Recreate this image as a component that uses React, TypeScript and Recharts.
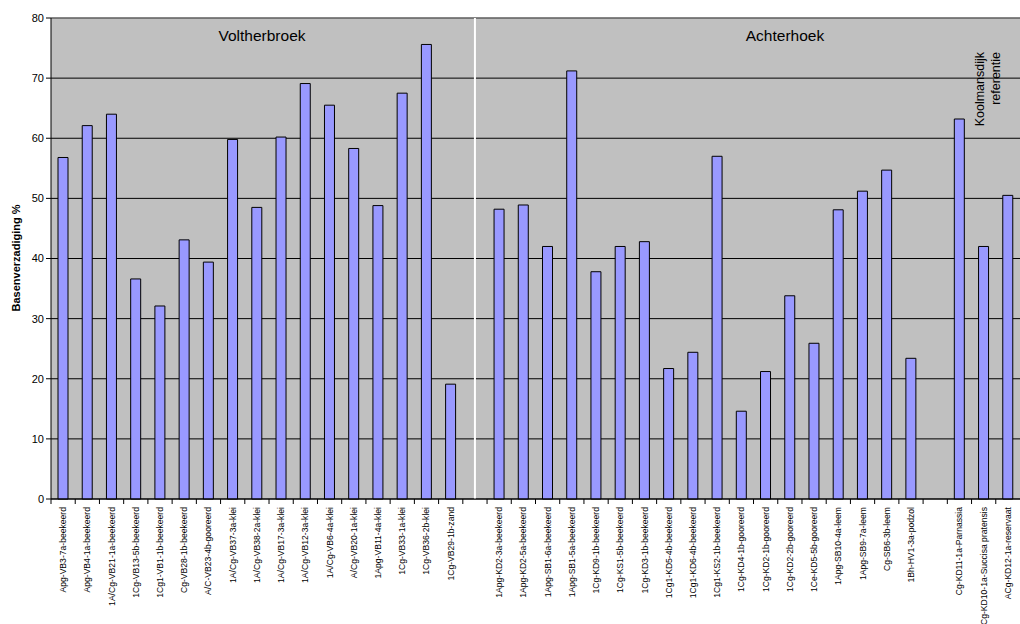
import React from 'react'
import { BarChart, Bar, XAxis, YAxis, CartesianGrid, ReferenceLine } from 'recharts'

// Voltherbroek
const volLabels = [
  'Apg-VB3-7a-beekeerd', 'Apg-VB4-1a-beekeerd', '1A/Cg-VB21-1a-beekeerd', '1Cg-VB13-5b-beekeerd',
  '1Cg1-VB1-1b-beekeerd', 'Cg-VB28-1b-beekeerd', 'A/C-VB23-4b-gooreerd', '1A/Cg-VB37-3a-klei',
  '1A/Cg-VB38-2a-klei', '1A/Cg-VB17-3a-klei', '1A/Cg-VB12-3a-klei', '1A/Cg-VB6-4a-klei',
  'A/Cg-VB20-1a-klei', '1Apg-VB11-4a-klei', '1Cg-VB33-1a-klei', '1Cg-VB36-2b-klei', '1Cg-VB29-1b-zand',
]
const volValues = [56.8, 62.1, 64.0, 36.6, 32.1, 43.1, 39.4, 59.8, 48.5, 60.2, 69.1, 65.5, 58.3, 48.8, 67.5, 75.6, 19.1]

// Achterhoek
const achLabels = [
  '1Apg-KD2-3a-beekeerd', '1Apg-KD2-5a-beekeerd', '1Apg-SB1-6a-beekeerd', '1Apg-SB1-5a-beekeerd',
  '1Cg-KD9-1b-beekeerd', '1Cg-KS1-5b-beekeerd', '1Cg-KD3-1b-beekeerd', '1Cg1-KD5-4b-beekeerd',
  '1Cg1-KD6-4b-beekeerd', '1Cg1-KS2-1b-beekeerd', '1Cg-KD4-1b-gooreerd', '1Cg-KD2-1b-gooreerd',
  '1Cg-KD2-2b-gooreerd', '1Ce-KD5-5b-gooreerd', '1Apg-SB10-4a-leem', '1Apg-SB9-7a-leem',
  'Cg-SB6-3b-leem', '1Bh-HV1-3a-podzol',
]
const achValues = [48.2, 48.9, 42.0, 71.2, 37.8, 42.0, 42.8, 21.7, 24.4, 57.0, 14.6, 21.2, 33.8, 25.9, 48.1, 51.2, 54.7, 23.4]

// Koolmansdijk referentie
const koolLabels = ['Cg-KD11-1a-Parnassia', 'Cg-KD10-1a-Succisa pratensis', 'ACg-KD12-1a-reservaat']
const koolValues = [63.2, 42.0, 50.5]

const yTicks = [0, 10, 20, 30, 40, 50, 60, 70, 80]

const data = [
  ...volLabels.map((l, i) => ({ key: l, value: volValues[i] })),
  { key: '_gap1', value: null },
  ...achLabels.map((l, i) => ({ key: l, value: achValues[i] })),
  { key: '_gap2', value: null },
  ...koolLabels.map((l, i) => ({ key: l, value: koolValues[i] })),
]

const W = 1020
const H = 624
const AXIS_W = 51
const catW = (W - AXIS_W) / data.length

const font = 'Arial, "Liberation Sans", sans-serif'

function XTick(props: any) {
  const { x, y, payload } = props
  const label = String(payload.value)
  return (
    <g>
      <line x1={x - catW / 2} y1={y} x2={x - catW / 2} y2={y + 5} stroke="#000" />
      {!label.startsWith('_') && (
        <text
          transform={`translate(${x + 3},${y + 8}) rotate(-90)`}
          textAnchor="end"
          fontSize={8.6}
          fontFamily={font}
          fill="#000"
        >
          {label}
        </text>
      )}
    </g>
  )
}

export default function App() {
  return (
    <div style={{ position: 'relative', width: W, height: H }}>
      <style>{'body{margin:0}'}</style>
      <BarChart width={W} height={H} data={data} margin={{ top: 18, right: 0, left: 0, bottom: 0 }}>
        <CartesianGrid vertical={false} stroke="#000" fill="#C0C0C0" fillOpacity={1} />
        <ReferenceLine y={80} stroke="#8a8a8a" />
        <ReferenceLine x="_gap1" stroke="#fff" strokeWidth={2} />
        <XAxis
          dataKey="key"
          interval={0}
          tickSize={0}
          tickMargin={0}
          tick={<XTick />}
          height={125}
          axisLine={{ stroke: '#000' }}
        />
        <YAxis
          domain={[0, 80]}
          ticks={yTicks}
          width={AXIS_W}
          tickSize={5}
          tickLine={{ stroke: '#000' }}
          axisLine={{ stroke: '#000' }}
          tick={{ fill: '#000', fontSize: 11, fontFamily: font }}
        />
        <Bar dataKey="value" fill="#9999FF" stroke="#000" strokeWidth={1} barSize={10} isAnimationActive={false} />
      </BarChart>
      <svg width={W} height={H} style={{ position: 'absolute', left: 0, top: 0, pointerEvents: 'none' }}>
        <text x={262} y={41} textAnchor="middle" fontSize={15.5} fontFamily={font} fill="#000">Voltherbroek</text>
        <text x={785} y={41} textAnchor="middle" fontSize={15.5} fontFamily={font} fill="#000">Achterhoek</text>
        <text transform="translate(984,52) rotate(-90)" textAnchor="end" fontSize={12.5} fontFamily={font} fill="#000">Koolmansdijk</text>
        <text transform="translate(1000,52) rotate(-90)" textAnchor="end" fontSize={12.5} fontFamily={font} fill="#000">referentie</text>
        <text transform="translate(20,258) rotate(-90)" textAnchor="middle" fontSize={11} fontWeight="bold" fontFamily={font} fill="#000">Basenverzadiging %</text>
      </svg>
    </div>
  )
}
